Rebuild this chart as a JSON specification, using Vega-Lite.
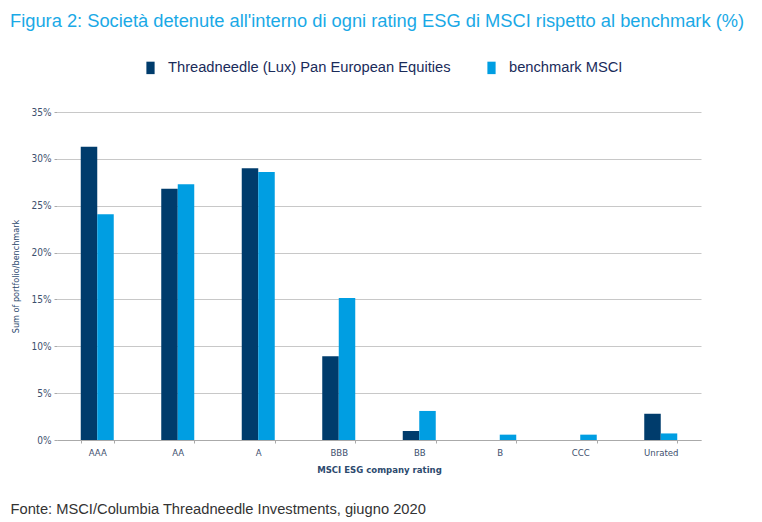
{
  "$schema": "https://vega.github.io/schema/vega-lite/v6.json",
  "autosize": "none",
  "width": 644,
  "height": 328,
  "padding": {"left": 57, "top": 112, "right": 61, "bottom": 82},
  "background": "white",
  "title": {
    "text": "Figura 2: Società detenute all'interno di ogni rating ESG di MSCI rispetto al benchmark (%)",
    "anchor": "start",
    "frame": "group",
    "orient": "top",
    "dx": -47,
    "offset": 24,
    "font": "Liberation Sans",
    "fontSize": 18.3,
    "fontWeight": "normal",
    "color": "#1aa9e6"
  },
  "data": {
    "values": [
      {"rating": "AAA", "series": "Threadneedle (Lux) Pan European Equities", "value": 31.3},
      {"rating": "AAA", "series": "benchmark MSCI", "value": 24.1},
      {"rating": "AA", "series": "Threadneedle (Lux) Pan European Equities", "value": 26.8},
      {"rating": "AA", "series": "benchmark MSCI", "value": 27.3},
      {"rating": "A", "series": "Threadneedle (Lux) Pan European Equities", "value": 29.0},
      {"rating": "A", "series": "benchmark MSCI", "value": 28.6},
      {"rating": "BBB", "series": "Threadneedle (Lux) Pan European Equities", "value": 8.95},
      {"rating": "BBB", "series": "benchmark MSCI", "value": 15.15},
      {"rating": "BB", "series": "Threadneedle (Lux) Pan European Equities", "value": 0.96},
      {"rating": "BB", "series": "benchmark MSCI", "value": 3.1},
      {"rating": "B", "series": "Threadneedle (Lux) Pan European Equities", "value": 0},
      {"rating": "B", "series": "benchmark MSCI", "value": 0.57},
      {"rating": "CCC", "series": "Threadneedle (Lux) Pan European Equities", "value": 0},
      {"rating": "CCC", "series": "benchmark MSCI", "value": 0.57},
      {"rating": "Unrated", "series": "Threadneedle (Lux) Pan European Equities", "value": 2.8},
      {"rating": "Unrated", "series": "benchmark MSCI", "value": 0.7}
    ]
  },
  "config": {
    "view": {"stroke": null},
    "axis": {
      "labelFont": "DejaVu Sans Condensed",
      "titleFont": "DejaVu Sans Condensed",
      "labelColor": "#3d4f6e",
      "titleColor": "#2d4a6e"
    }
  },
  "resolve": {"axis": {"x": "independent"}},
  "layer": [
    {
      "mark": {"type": "bar"},
      "encoding": {
        "x": {
          "field": "rating",
          "type": "nominal",
          "sort": ["AAA", "AA", "A", "BBB", "BB", "B", "CCC", "Unrated"],
          "scale": {"paddingInner": 0.59, "paddingOuter": 0.295},
          "axis": {
            "title": "MSCI ESG company rating",
            "titleFontSize": 9.5,
            "titleFontWeight": "bold",
            "titlePadding": 8,
            "labelFontSize": 9.5,
            "labelAngle": 0,
            "labelPadding": 4,
            "tickBand": "extent",
            "tickSize": 3,
            "tickColor": "#aaaaaa",
            "domainColor": "#aaaaaa",
            "grid": false
          }
        },
        "xOffset": {
          "field": "series",
          "type": "nominal",
          "sort": ["Threadneedle (Lux) Pan European Equities", "benchmark MSCI"]
        },
        "y": {
          "field": "value",
          "type": "quantitative",
          "scale": {"domain": [0, 35]},
          "axis": {
            "title": "Sum of portfolio/benchmark",
            "titleFontSize": 9,
            "titleFontWeight": "normal",
            "titlePadding": 11,
            "values": [0, 5, 10, 15, 20, 25, 30, 35],
            "labelExpr": "datum.value + '%'",
            "labelFontSize": 10,
            "labelPadding": 3,
            "tickSize": 3,
            "tickColor": "#aaaaaa",
            "domain": false,
            "gridColor": "#c8c8c8",
            "gridWidth": 1
          }
        },
        "color": {
          "field": "series",
          "type": "nominal",
          "sort": ["Threadneedle (Lux) Pan European Equities", "benchmark MSCI"],
          "scale": {"range": ["#003c6c", "#009ee2"]},
          "legend": {
            "title": null,
            "orient": "none",
            "legendX": 81,
            "legendY": -57,
            "direction": "horizontal",
            "symbolType": "M-0.33,-0.5H0.33V0.5H-0.33Z",
            "symbolSize": 620,
            "symbolStrokeWidth": 0,
            "labelFont": "Liberation Sans",
            "labelFontSize": 14.7,
            "labelColor": "#1a2b5a",
            "labelOffset": 5,
            "labelLimit": 400,
            "columnPadding": 28
          }
        }
      }
    },
    {
      "mark": {"type": "rule", "opacity": 0},
      "encoding": {
        "x": {
          "field": "rating",
          "type": "nominal",
          "sort": ["AAA", "AA", "A", "BBB", "BB", "B", "CCC", "Unrated"],
          "axis": {
            "orient": "bottom",
            "title": "Fonte: MSCI/Columbia Threadneedle Investments, giugno 2020",
            "labels": false,
            "ticks": false,
            "domain": false,
            "grid": false,
            "titleAnchor": "start",
            "titleAlign": "left",
            "titleX": -47,
            "titleY": 61,
            "titleFont": "Liberation Sans",
            "titleFontSize": 14.7,
            "titleFontWeight": "normal",
            "titleColor": "#333333"
          }
        }
      }
    }
  ]
}
